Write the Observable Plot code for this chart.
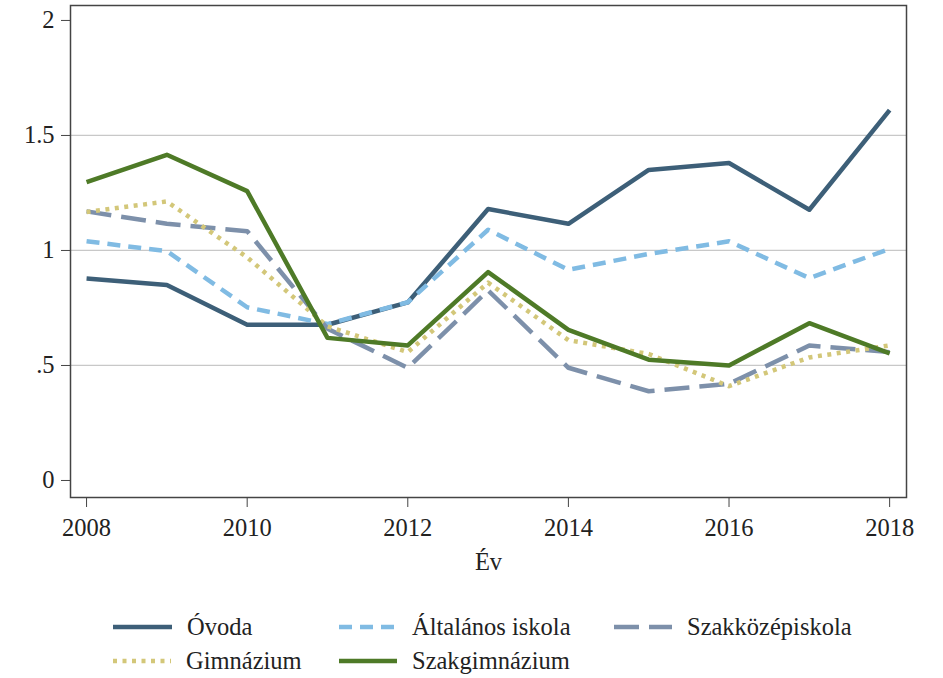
<!DOCTYPE html>
<html>
<head>
<meta charset="utf-8">
<script src="https://cdn.jsdelivr.net/npm/d3@7"></script>
<script src="https://cdn.jsdelivr.net/npm/@observablehq/plot@0.6"></script>
</head>
<body style="margin:0;background:#fff;font-family:'Liberation Serif'">
<div id="wrap" style="position:relative;width:943px;height:678px;font-family:'Liberation Serif'"><div id="chart"></div><div id="legend" style="position:absolute;left:0;top:0;width:943px;height:678px;font-family:'Liberation Serif'"></div></div>
<script>
const years = [2008, 2009, 2010, 2011, 2012, 2013, 2014, 2015, 2016, 2017, 2018];
const ovoda = [0.878, 0.85, 0.677, 0.677, 0.774, 1.18, 1.116, 1.35, 1.38, 1.177, 1.61];
const altalanos = [1.04, 0.997, 0.753, 0.68, 0.775, 1.09, 0.916, 0.985, 1.04, 0.88, 1.007];
const szakkozep = [1.17, 1.116, 1.084, 0.66, 0.49, 0.826, 0.49, 0.388, 0.42, 0.587, 0.558];
const gimnazium = [1.167, 1.213, 0.97, 0.67, 0.558, 0.86, 0.61, 0.55, 0.41, 0.535, 0.587];
const szakgimnazium = [1.297, 1.416, 1.258, 0.62, 0.587, 0.906, 0.655, 0.525, 0.5, 0.684, 0.553];

const seriesNames = ["Óvoda", "Általános iskola", "Szakközépiskola", "Gimnázium", "Szakgimnázium"];
const seriesValues = [ovoda, altalanos, szakkozep, gimnazium, szakgimnazium];
const colors = ["#3d5f78", "#80bbe3", "#7d90aa", "#d3c779", "#4e7a27"];
const dashes = [null, "13,8", "25,10", "4,5.5", null];
const yTicks = [0, 0.5, 1, 1.5, 2];
const xTicks = [2008, 2010, 2012, 2014, 2016, 2018];

const rows = seriesNames.map((name, i) => years.map((yr, j) => ({series: name, year: yr, value: seriesValues[i][j]})));

const lineMarks = rows.map((r, i) => Plot.line(r, {
  x: "year", y: "value", stroke: colors[i], strokeWidth: 4.5,
  strokeDasharray: dashes[i] ?? undefined,
  strokeLinecap: "butt", strokeLinejoin: "round"
}));

const chart = Plot.plot({
  width: 943,
  height: 585,
  marginLeft: 70,
  marginRight: 37,
  marginTop: 5,
  marginBottom: 88,
  style: "font-family:'Liberation Serif';font-size:24.5px;color:#222;background:#fff;",
  x: { domain: [2007.8, 2018.21] },
  y: { domain: [-0.074, 2.065] },
  marks: [
    Plot.ruleY([0.5, 1, 1.5], { stroke: "#c8c8c8", strokeWidth: 1.2 }),
    ...lineMarks,
    Plot.frame({ stroke: "#444", strokeWidth: 1.5 }),
    Plot.axisX({ ticks: xTicks, tickFormat: d => String(d), tickSize: 10, tickPadding: 11, label: null, stroke: "#444", fontSize: 24.5 }),
    Plot.axisY({ ticks: yTicks, tickFormat: d => d === 0.5 ? ".5" : String(d), tickSize: 9, tickPadding: 7, label: null, stroke: "#444", fontSize: 24.5 }),
    Plot.text(["Év"], { frameAnchor: "bottom", dy: 72, text: d => d, fontSize: 24.5, fill: "#222" })
  ]
});
chart.querySelectorAll("text").forEach(t => t.setAttribute("font-family", "Liberation Serif"));
document.getElementById("chart").appendChild(chart);

const legendPos = [
  { x: 113, y: 627 }, { x: 339, y: 627 }, { x: 614, y: 627 },
  { x: 113, y: 661 }, { x: 339, y: 661 }
];
const swatchW = [59, 58, 58, 58, 58];
const legend = document.getElementById("legend");
seriesNames.forEach((name, i) => {
  const div = document.createElement("div");
  div.style.cssText = `position:absolute;display:flex;align-items:center;font-size:24.5px;color:#222;font-family:'Liberation Serif';left:${legendPos[i].x}px;top:${legendPos[i].y - 16}px;height:32px;`;
  const w = swatchW[i];
  const dash = dashes[i] ? `stroke-dasharray="${dashes[i]}"` : "";
  div.innerHTML = `<svg width="${w}" height="10" style="margin-right:15px"><line x1="0" y1="5" x2="${w}" y2="5" stroke="${colors[i]}" stroke-width="4.5" ${dash}/></svg><span style="font-family:'Liberation Serif'">${name}</span>`;
  legend.appendChild(div);
});
</script>
</body>
</html>
